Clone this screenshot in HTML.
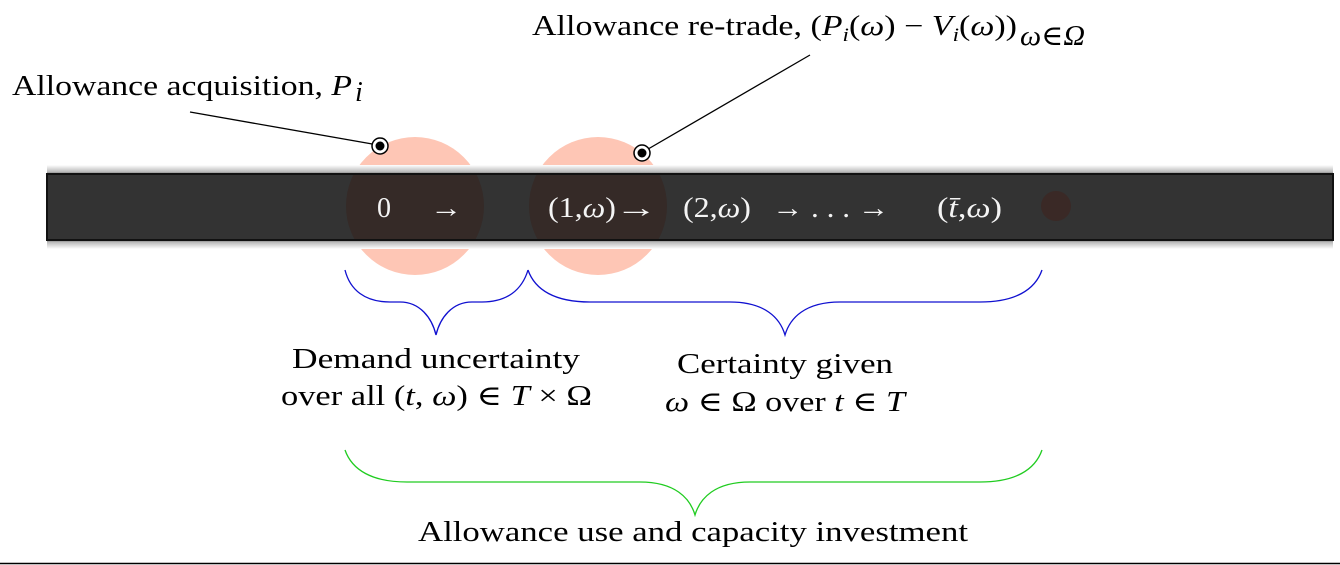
<!DOCTYPE html>
<html><head><meta charset="utf-8"><style>
html,body{margin:0;padding:0;background:#fff;}
svg{display:block;}
text{font-family:"Liberation Serif","DejaVu Serif",serif;font-size:28px;fill:#000;}
.w{fill:#f4f4f4;}
</style></head><body>
<svg width="1340" height="565" viewBox="0 0 1340 565" xmlns="http://www.w3.org/2000/svg">
<defs>
<linearGradient id="halo" x1="0" y1="0" x2="0" y2="1">
<stop offset="0" stop-color="#fff"/>
<stop offset="0.08" stop-color="#bbb"/>
<stop offset="0.12" stop-color="#555"/>
<stop offset="0.88" stop-color="#555"/>
<stop offset="0.92" stop-color="#bbb"/>
<stop offset="1" stop-color="#fff"/>
</linearGradient>
<clipPath id="bar"><rect x="48" y="175" width="1284" height="64"/></clipPath>
</defs>
<circle cx="415" cy="206" r="69" fill="#fec6b5"/>
<circle cx="598" cy="206" r="69" fill="#fec6b5"/>
<rect x="47" y="165" width="1286" height="84" fill="url(#halo)"/>
<rect x="47" y="174" width="1286" height="66" fill="#333" stroke="#111" stroke-width="2"/>
<g clip-path="url(#bar)">
<circle cx="415" cy="206" r="69" fill="#352a27"/>
<circle cx="598" cy="206" r="69" fill="#352a27"/>
</g>
<circle cx="1056" cy="206" r="15" fill="#3a2926"/>
<text x="377" y="217" class="w">0</text>
<text x="430" y="217" class="w" textLength="32" lengthAdjust="spacingAndGlyphs">→</text>
<text x="548" y="217" class="w" textLength="68" lengthAdjust="spacingAndGlyphs">(1,<tspan font-style="italic">ω</tspan>)</text>
<text x="615" y="217" class="w" textLength="42" lengthAdjust="spacingAndGlyphs">→</text>
<text x="683" y="217" class="w" textLength="68" lengthAdjust="spacingAndGlyphs">(2,<tspan font-style="italic">ω</tspan>)</text>
<text x="772" y="217" class="w" textLength="117" lengthAdjust="spacingAndGlyphs">→ . . . →</text>
<text x="937" y="217" class="w" textLength="65" lengthAdjust="spacingAndGlyphs">(<tspan font-style="italic">t̄</tspan>,<tspan font-style="italic">ω</tspan>)</text>
<line x1="190" y1="112" x2="378" y2="145" stroke="#000" stroke-width="1.3"/>
<line x1="810" y1="55" x2="643" y2="152" stroke="#000" stroke-width="1.3"/>
<circle cx="380" cy="146" r="8" fill="#fff" stroke="#000" stroke-width="1.5"/>
<circle cx="380" cy="146" r="4.5" fill="#000"/>
<circle cx="642" cy="153" r="8" fill="#fff" stroke="#000" stroke-width="1.5"/>
<circle cx="642" cy="153" r="4.5" fill="#000"/>
<text x="12" y="95" textLength="340" lengthAdjust="spacingAndGlyphs">Allowance acquisition, <tspan font-style="italic">P</tspan></text>
<text x="355" y="101" font-style="italic" font-size="19">i</text>
<text x="532" y="35" textLength="485" lengthAdjust="spacingAndGlyphs">Allowance re-trade, (<tspan font-style="italic">P</tspan><tspan font-style="italic" font-size="19" dy="6">i</tspan><tspan dy="-6">(<tspan font-style="italic">ω</tspan>) − </tspan><tspan font-style="italic">V</tspan><tspan font-style="italic" font-size="19" dy="6">i</tspan><tspan dy="-6">(<tspan font-style="italic">ω</tspan>))</tspan></text>
<text x="1020" y="45" font-style="italic" font-size="19" textLength="65" lengthAdjust="spacingAndGlyphs">ω∈Ω</text>
<g fill="none" stroke-width="1.3">
<path d="M345 270 C350 290 365 302 390 302 L400 302 C420 302 432 318 436 335 C440 318 452 302 472 302 L482 302 C507 302 522 290 528 270" stroke="#1010d0"/>
<path d="M528 270 C535 290 555 302 590 302 L730 302 C765 302 780 318 785 335 C790 318 805 302 840 302 L980 302 C1015 302 1035 290 1042 270" stroke="#1010d0"/>
<path d="M345 450 C352 470 372 482 407 482 L640 482 C675 482 690 498 695 515 C700 498 715 482 750 482 L980 482 C1015 482 1035 470 1042 450" stroke="#20cc20"/>
</g>
<text x="292" y="368" textLength="288" lengthAdjust="spacingAndGlyphs">Demand uncertainty</text>
<text x="281" y="405" textLength="311" lengthAdjust="spacingAndGlyphs">over all (<tspan font-style="italic">t</tspan>, <tspan font-style="italic">ω</tspan>) ∈ <tspan font-style="italic">T</tspan> × Ω</text>
<text x="677" y="373" textLength="216" lengthAdjust="spacingAndGlyphs">Certainty given</text>
<text x="665" y="411" textLength="240" lengthAdjust="spacingAndGlyphs"><tspan font-style="italic">ω</tspan> ∈ Ω over <tspan font-style="italic">t</tspan> ∈ <tspan font-style="italic">T</tspan></text>
<text x="418" y="541" textLength="550" lengthAdjust="spacingAndGlyphs">Allowance use and capacity investment</text>
<line x1="0" y1="563.5" x2="1340" y2="563.5" stroke="#000" stroke-width="1.5"/>
</svg>
</body></html>
